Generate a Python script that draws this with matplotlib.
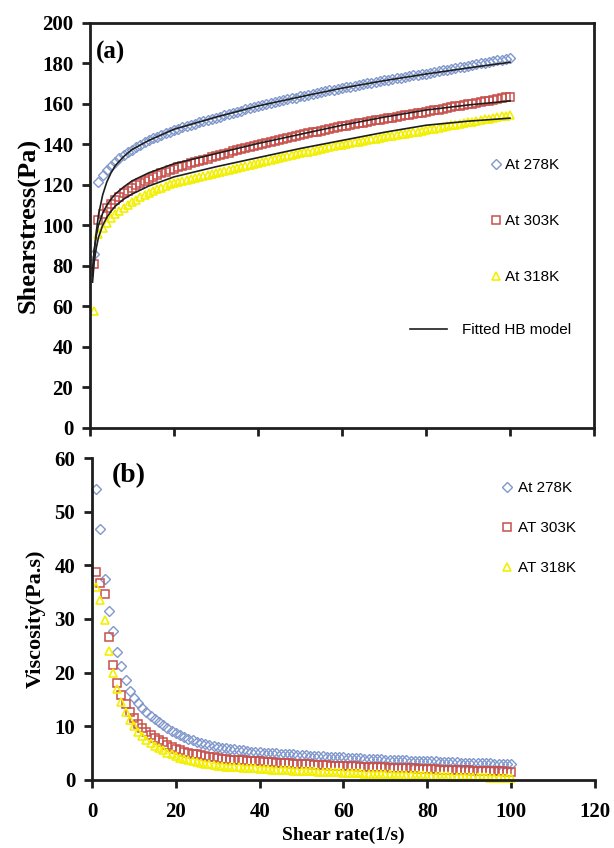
import numpy as np
import matplotlib
matplotlib.use("Agg")
import matplotlib.pyplot as plt

# shear rate (1/s), one reading per unit
shear_rate = np.arange(1, 101)

# (a) shear stress, Pa
stress_278 = [86.0, 121.6, 124.8, 127.4, 129.6, 131.5, 133.2, 134.8, 136.2, 137.5,
              138.8, 139.9, 141.0, 142.1, 143.0, 143.9, 144.7, 145.5, 146.3, 147.0,
              147.7, 148.4, 149.0, 149.7, 150.3, 150.9, 151.4, 152.0, 152.6, 153.2,
              153.8, 154.4, 155.0, 155.6, 156.2, 156.7, 157.3, 157.8, 158.3, 158.9,
              159.4, 159.9, 160.4, 160.9, 161.3, 161.8, 162.3, 162.8, 163.2, 163.7,
              164.1, 164.5, 165.0, 165.4, 165.8, 166.2, 166.7, 167.1, 167.5, 167.9,
              168.3, 168.6, 169.0, 169.4, 169.8, 170.2, 170.5, 170.9, 171.3, 171.6,
              172.0, 172.3, 172.7, 173.0, 173.4, 173.7, 174.1, 174.4, 174.7, 175.0,
              175.5, 175.8, 176.2, 176.6, 177.0, 177.4, 177.8, 178.1, 178.5, 178.9,
              179.2, 179.6, 180.0, 180.4, 180.7, 181.1, 181.5, 181.9, 182.3, 182.6]
stress_303 = [81.0, 102.6, 105.8, 108.4, 110.6, 112.5, 114.2, 115.8, 117.2, 118.5,
              119.8, 120.9, 122.0, 123.1, 124.0, 124.9, 125.7, 126.5, 127.3, 128.0,
              128.7, 129.4, 130.0, 130.7, 131.3, 131.9, 132.4, 133.0, 133.6, 134.2,
              134.8, 135.4, 136.0, 136.6, 137.2, 137.7, 138.3, 138.8, 139.3, 139.9,
              140.4, 140.9, 141.4, 141.9, 142.3, 142.8, 143.3, 143.8, 144.2, 144.7,
              145.1, 145.5, 146.0, 146.4, 146.8, 147.2, 147.7, 148.1, 148.5, 148.9,
              149.3, 149.6, 150.0, 150.4, 150.8, 151.2, 151.5, 151.9, 152.3, 152.6,
              153.0, 153.3, 153.7, 154.0, 154.4, 154.7, 155.1, 155.4, 155.7, 156.0,
              156.5, 156.8, 157.2, 157.6, 158.0, 158.4, 158.8, 159.1, 159.5, 159.9,
              160.2, 160.6, 161.0, 161.4, 161.7, 162.1, 162.5, 162.9, 163.3, 163.6]
stress_318 = [58.0, 95.6, 98.8, 101.4, 103.6, 105.5, 107.2, 108.8, 110.2, 111.5,
              112.8, 113.9, 115.0, 116.1, 117.0, 117.9, 118.7, 119.5, 120.3, 121.0,
              121.6, 122.1, 122.6, 123.2, 123.6, 124.1, 124.5, 124.9, 125.4, 125.9,
              126.3, 126.8, 127.3, 127.8, 128.3, 128.7, 129.3, 129.8, 130.3, 130.9,
              131.4, 131.9, 132.4, 132.9, 133.3, 133.8, 134.3, 134.8, 135.2, 135.7,
              136.1, 136.5, 137.0, 137.4, 137.8, 138.2, 138.7, 139.1, 139.5, 139.9,
              140.3, 140.6, 141.0, 141.4, 141.8, 142.2, 142.5, 142.9, 143.3, 143.6,
              144.0, 144.3, 144.7, 145.0, 145.4, 145.7, 146.1, 146.4, 146.7, 147.0,
              147.5, 147.8, 148.2, 148.6, 149.0, 149.4, 149.8, 150.1, 150.5, 150.9,
              151.2, 151.6, 152.0, 152.4, 152.7, 153.1, 153.5, 153.9, 154.3, 154.6]

# fitted Herschel-Bulkley curves
fit_rate = [0.6, 1, 1.5, 2, 3, 4, 5, 6, 8, 10, 14, 20, 30, 40, 50, 60, 70, 80, 90, 100]
fit_278 = [75, 87, 97, 105, 115, 121.5, 126, 129.5, 134, 137.5, 142, 147.5, 153.5,
           159, 163.5, 167.8, 171.5, 174.8, 177.8, 180.6]
fit_303 = [78, 88, 95, 100, 106, 110, 113, 115.5, 119, 122, 126, 130.5, 135.5,
           140.5, 145, 149.5, 153.5, 157, 159.5, 161.5]
fit_318 = [72, 82, 89, 94, 100, 104, 107, 109.5, 113, 115.5, 119.5, 124, 129,
           133.5, 138, 142, 146, 149.5, 151.5, 153]

# (b) viscosity, Pa.s
visc_278 = [54.2, 46.8, 37.5, 31.5, 27.7, 23.8, 21.2, 18.7, 16.6, 15.3,
            14.3, 13.5, 12.7, 12.0, 11.4, 10.8, 10.2, 9.7, 9.2, 8.8,
            8.4, 8.0, 7.7, 7.4, 7.1, 6.9, 6.7, 6.5, 6.3, 6.1,
            6.0, 5.9, 5.8, 5.7, 5.6, 5.5, 5.4, 5.3, 5.25, 5.2,
            5.1, 5.05, 5.0, 4.95, 4.9, 4.85, 4.8, 4.75, 4.7, 4.65,
            4.6, 4.55, 4.5, 4.45, 4.4, 4.35, 4.3, 4.3, 4.25, 4.2,
            4.15, 4.1, 4.1, 4.05, 4.0, 3.95, 3.95, 3.9, 3.85, 3.8,
            3.8, 3.75, 3.7, 3.7, 3.65, 3.6, 3.6, 3.55, 3.5, 3.5,
            3.45, 3.45, 3.4, 3.4, 3.35, 3.3, 3.3, 3.25, 3.25, 3.2,
            3.2, 3.15, 3.15, 3.1, 3.1, 3.05, 3.05, 3.0, 3.0, 2.95]
visc_303 = [38.7, 36.7, 34.6, 26.6, 21.5, 18.1, 15.8, 14.1, 12.7, 11.5,
            10.5, 9.7, 9.0, 8.4, 7.9, 7.4, 7.0, 6.6, 6.2, 5.8,
            5.5, 5.3, 5.1, 4.9, 4.75, 4.6, 4.45, 4.3, 4.2, 4.1,
            4.0, 3.9, 3.8, 3.75, 3.7, 3.65, 3.6, 3.55, 3.5, 3.45,
            3.4, 3.35, 3.3, 3.25, 3.2, 3.15, 3.1, 3.05, 3.0, 2.95,
            2.9, 2.9, 2.85, 2.8, 2.8, 2.75, 2.7, 2.7, 2.65, 2.6,
            2.6, 2.55, 2.55, 2.5, 2.5, 2.45, 2.4, 2.4, 2.35, 2.35,
            2.3, 2.3, 2.25, 2.2, 2.2, 2.15, 2.15, 2.1, 2.1, 2.05,
            2.0, 2.0, 1.95, 1.95, 1.9, 1.9, 1.85, 1.85, 1.8, 1.8,
            1.75, 1.75, 1.7, 1.7, 1.65, 1.65, 1.6, 1.6, 1.55, 1.55]
visc_318 = [36.0, 33.6, 29.8, 24.1, 19.9, 17.0, 14.6, 12.7, 11.2, 10.0,
            9.0, 8.2, 7.5, 6.9, 6.4, 5.9, 5.5, 5.1, 4.8, 4.4,
            4.1, 3.9, 3.7, 3.5, 3.3, 3.15, 3.0, 2.9, 2.8, 2.7,
            2.6, 2.5, 2.45, 2.4, 2.35, 2.3, 2.25, 2.2, 2.15, 2.1,
            2.05, 2.0, 1.95, 1.9, 1.85, 1.8, 1.8, 1.75, 1.7, 1.7,
            1.65, 1.6, 1.6, 1.55, 1.5, 1.5, 1.45, 1.4, 1.4, 1.35,
            1.3, 1.3, 1.25, 1.25, 1.2, 1.2, 1.15, 1.1, 1.1, 1.05,
            1.05, 1.0, 1.0, 0.95, 0.95, 0.9, 0.9, 0.85, 0.85, 0.8,
            0.8, 0.75, 0.75, 0.7, 0.7, 0.65, 0.65, 0.6, 0.6, 0.55,
            0.55, 0.5, 0.5, 0.5, 0.45, 0.45, 0.4, 0.4, 0.4, 0.35]

labels_a = ["At 278K", "At 303K", "At 318K"]
labels_b = ["At 278K", "AT 303K", "AT 318K"]

BLUE = "#8098cc"
RED = "#c8504c"
YELLOW = "#f2f000"
DARK = "#1e1e1e"
SERIF = "Liberation Serif"
SANS = "Liberation Sans"

fig = plt.figure(figsize=(6.14, 8.48), dpi=100)
ax1 = fig.add_axes([0.1466, 0.4953, 0.8208, 0.4776])
ax2 = fig.add_axes([0.1498, 0.0802, 0.8192, 0.3797])

styles = [
    dict(marker="D", ms=4.8, mfc="none", mec=BLUE, mew=1.0, ls="none"),
    dict(marker="s", ms=5.6, mfc="none", mec=RED, mew=1.1, ls="none"),
    dict(marker="^", ms=5.6, mfc="none", mec=YELLOW, mew=1.2, ls="none"),
]

# ---- (a) shear stress
h = []
for ys, st, lab in zip([stress_278, stress_303, stress_318], styles, labels_a):
    h += ax1.plot(shear_rate, ys, label=lab, **st)
fit_line = None
for fy in [fit_278, fit_303, fit_318]:
    fit_line, = ax1.plot(fit_rate, fy, color=DARK, lw=1.2, zorder=3)

ax1.set_xlim(0, 120)
ax1.set_ylim(0, 200)
ax1.set_xticks(range(0, 121, 20))
ax1.set_xticklabels([])
ax1.set_yticks(range(0, 201, 20))
ax1.set_ylabel("Shearstress(Pa)", family=SERIF, weight="bold", fontsize=19, labelpad=2)
ax1.text(0.012, 0.955, "(a)", transform=ax1.transAxes, family=SERIF, weight="bold",
         fontsize=18, va="top", ha="left")

leg1 = ax1.legend(handles=h, loc="center left", bbox_to_anchor=(0.793, 0.511),
                  frameon=False, borderpad=0, borderaxespad=0, handlelength=0.8,
                  handletextpad=0.2, labelspacing=2.75, numpoints=1,
                  prop=dict(family=SANS, size=11))
ax1.add_artist(leg1)
ax1.legend([fit_line], ["Fitted HB model"], loc="center left",
           bbox_to_anchor=(0.635, 0.242), frameon=False, borderpad=0,
           borderaxespad=0, handlelength=2.4, handletextpad=1.0,
           prop=dict(family=SANS, size=11))

# ---- (b) viscosity
h2 = []
for ys, st, lab in zip([visc_278, visc_303, visc_318], styles, labels_b):
    h2 += ax2.plot(shear_rate, ys, label=lab, clip_on=False, **st)

ax2.set_xlim(0, 120)
ax2.set_ylim(0, 60)
ax2.set_xticks(range(0, 121, 20))
ax2.set_yticks(range(0, 61, 10))
ax2.spines["top"].set_visible(False)
ax2.spines["right"].set_visible(False)
ax2.set_ylabel("Viscosity(Pa.s)", family=SERIF, weight="bold", fontsize=16, labelpad=6)
ax2.text(0.04, 0.985, "(b)", transform=ax2.transAxes, family=SERIF, weight="bold",
         fontsize=20, va="top", ha="left")
ax2.legend(handles=h2, loc="center left", bbox_to_anchor=(0.813, 0.783),
           frameon=False, borderpad=0, borderaxespad=0, handlelength=0.8,
           handletextpad=0.3, labelspacing=1.7, numpoints=1,
           prop=dict(family=SANS, size=11))

for ax in (ax1, ax2):
    for sp in ax.spines.values():
        sp.set_linewidth(2.0)
        sp.set_color(DARK)
    ax.tick_params(direction="out", length=6, width=2.0, color=DARK, pad=6,
                   labelsize=15)
    for t in ax.get_xticklabels() + ax.get_yticklabels():
        t.set_family(SERIF)
        t.set_weight("bold")
ax2.tick_params(axis="x", pad=10)
ax2.set_xlabel("Shear rate(1/s)", family=SERIF, weight="bold", fontsize=14, labelpad=3)

fig.savefig("out.png", dpi=100, facecolor="white")
